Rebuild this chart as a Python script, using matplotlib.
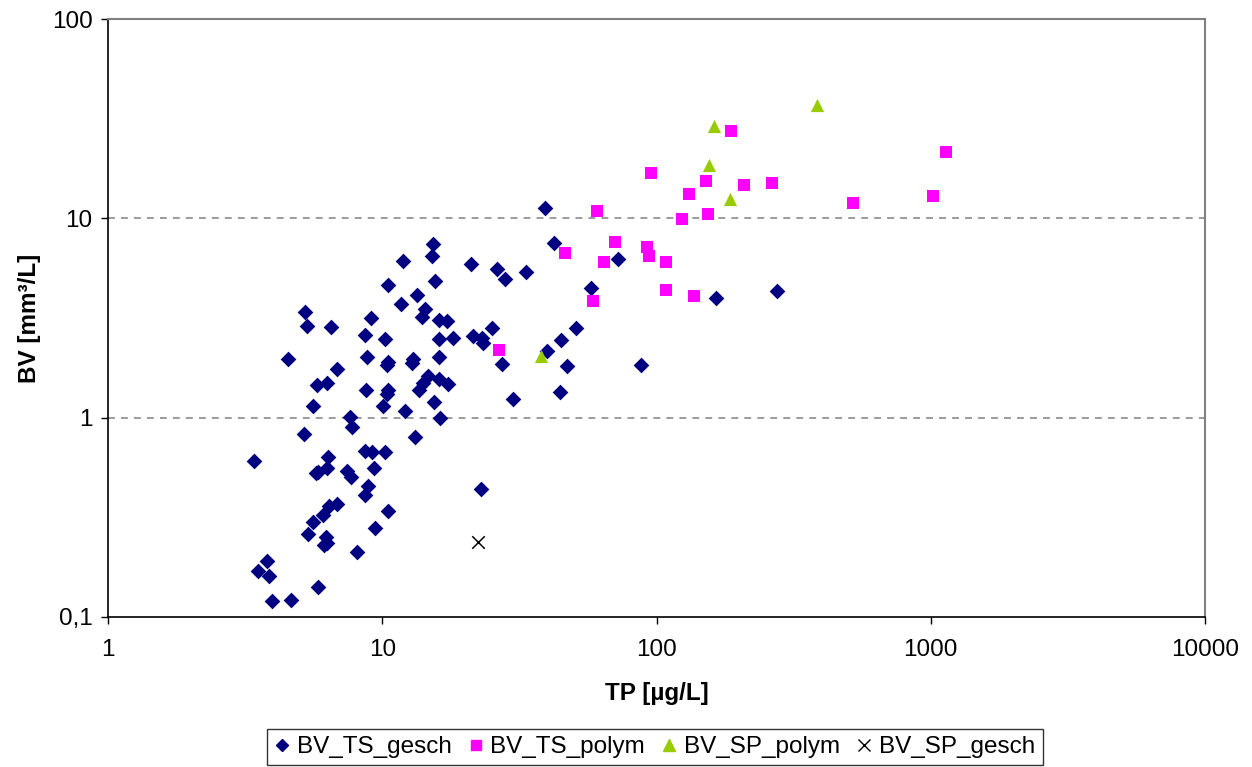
import matplotlib
matplotlib.use("Agg")
import matplotlib.pyplot as plt
from matplotlib.ticker import FixedLocator, FixedFormatter, NullLocator
from matplotlib.lines import Line2D

plt.rcParams['font.family'] = ['Liberation Sans', 'DejaVu Sans']

# BV_TS_gesch (TP, BV)
ts_gesch_tp = [3.41, 3.52, 3.80, 3.87, 3.96, 4.65, 4.53, 5.23, 5.32, 5.18,
               5.36, 5.59, 5.59, 5.78, 5.83, 5.73, 5.83, 6.29, 6.08, 6.13,
               6.34, 6.29, 6.50, 6.40, 6.24, 6.29, 6.84, 6.84, 7.63, 7.76,
               7.43, 7.69, 8.09, 8.65, 8.80, 8.73, 8.65, 8.87, 8.65, 9.10,
               9.18, 9.33, 9.41, 10.1, 10.2, 10.2, 10.5, 10.5, 10.5, 10.5,
               10.4, 10.4, 11.7, 11.9, 12.1, 12.9, 12.8, 13.2, 13.4, 13.6,
               14.0, 14.3, 14.1, 14.7, 15.2, 15.3, 15.4, 15.6, 16.1, 16.1,
               16.1, 16.2, 17.2, 17.4, 18.1, 16.1, 21.1, 21.4, 23.3, 23.1,
               22.9, 25.1, 26.2, 27.3, 28.0, 30.0, 33.4, 39.2, 39.9, 42.3,
               44.5, 44.9, 47.2, 50.9, 57.7, 72.4, 87.8, 165, 275]
ts_gesch_bv = [0.608, 0.171, 0.192, 0.161, 0.120, 0.121, 1.98, 3.40, 2.89, 0.83,
               0.262, 1.14, 0.301, 1.46, 0.141, 0.530, 0.536, 1.50, 0.323, 0.231,
               0.638, 0.561, 2.86, 0.362, 0.253, 0.236, 1.76, 0.371, 1.01, 0.90,
               0.542, 0.506, 0.211, 2.61, 2.02, 1.37, 0.684, 0.456, 0.411, 3.17,
               0.676, 0.561, 0.281, 1.15, 2.49, 0.676, 4.64, 1.91, 1.38, 0.342,
               1.84, 1.32, 3.73, 6.12, 1.08, 1.98, 1.89, 0.80, 4.14, 1.38,
               3.21, 3.52, 1.50, 1.61, 6.49, 7.45, 1.20, 4.86, 2.49, 2.02,
               3.10, 1.00, 3.07, 1.48, 2.52, 1.57, 5.92, 2.58, 2.38, 2.52,
               0.441, 2.83, 5.58, 1.86, 4.98, 1.24, 5.39, 11.3, 2.17, 7.54,
               1.35, 2.46, 1.82, 2.83, 4.47, 6.27, 1.84, 4.00, 4.33]

# BV_TS_polym
ts_polym_tp = [187, 95.5, 151, 131, 208, 264, 521, 1019, 1137, 60.7,
               124, 154, 70.6, 46.4, 64.4, 92.3, 93.9, 108, 108, 137,
               58.7, 26.7]
ts_polym_bv = [27.5, 16.9, 15.4, 13.3, 14.7, 15.1, 11.9, 13.0, 21.5, 10.9,
               9.94, 10.5, 7.62, 6.71, 6.05, 7.20, 6.49, 6.05, 4.38, 4.09,
               3.86, 2.19]

# BV_SP_polym
sp_polym_tp = [385, 162, 155, 185, 37.9]
sp_polym_bv = [37.1, 29.1, 18.5, 12.5, 2.05]

# BV_SP_gesch
sp_gesch_tp = [22.4]
sp_gesch_bv = [0.239]

x_ticks = [1, 10, 100, 1000, 10000]
x_tick_labels = ["1", "10", "100", "1000", "10000"]
y_ticks = [0.1, 1, 10, 100]
y_tick_labels = ["0,1", "1", "10", "100"]

fig = plt.figure(figsize=(12.52, 7.67), dpi=100)
ax = fig.add_axes([108/1252, 1-617/767, 1097/1252, 598/767])
ax.set_xscale('log')
ax.set_yscale('log')
ax.set_xlim(1, 10000)
ax.set_ylim(0.1, 100)

for yv in [1, 10]:
    ax.axhline(yv, color='#808080', linestyle=(0, (4.5, 4)), linewidth=1.1, zorder=1)

ax.scatter(ts_gesch_tp, ts_gesch_bv, marker='D', s=8.0**2, color='#000080',
           linewidths=0, zorder=3, label='BV_TS_gesch')
ax.scatter(ts_polym_tp, ts_polym_bv, marker='s', s=8.5**2, color='#FF00FF',
           linewidths=0, zorder=3, label='BV_TS_polym')
ax.scatter(sp_polym_tp, sp_polym_bv, marker='^', s=9.5**2, color='#99CC00',
           linewidths=0, zorder=3, label='BV_SP_polym')
ax.scatter(sp_gesch_tp, sp_gesch_bv, marker='x', s=9**2, color='black',
           linewidths=1.1, zorder=3, label='BV_SP_gesch')

ax.xaxis.set_major_locator(FixedLocator(x_ticks))
ax.xaxis.set_major_formatter(FixedFormatter(x_tick_labels))
ax.yaxis.set_major_locator(FixedLocator(y_ticks))
ax.yaxis.set_major_formatter(FixedFormatter(y_tick_labels))
ax.xaxis.set_minor_locator(NullLocator())
ax.yaxis.set_minor_locator(NullLocator())
ax.tick_params(axis='both', which='major', direction='out', length=5,
               width=1, labelsize=17.5, color='black')
ax.tick_params(axis='x', pad=11)
ax.tick_params(axis='y', pad=6)

for s in ['top', 'right']:
    ax.spines[s].set_color('#808080')
    ax.spines[s].set_linewidth(1.5)
for s in ['left', 'bottom']:
    ax.spines[s].set_color('black')
    ax.spines[s].set_linewidth(1.2)

ax.set_xlabel('TP [µg/L]', fontsize=17.5, fontweight='bold', labelpad=15)
ax.set_ylabel('BV [mm³/L]', fontsize=17.5, fontweight='bold', labelpad=8)

handles = [
    Line2D([], [], marker='D', color='#000080', linestyle='none', markersize=6.5),
    Line2D([], [], marker='s', color='#FF00FF', linestyle='none', markersize=7.5),
    Line2D([], [], marker='^', color='#99CC00', linestyle='none', markersize=8),
    Line2D([], [], marker='x', color='black', linestyle='none', markersize=8, markeredgewidth=1),
]
labels = ['BV_TS_gesch', 'BV_TS_polym', 'BV_SP_polym', 'BV_SP_gesch']
leg = fig.legend(handles, labels, loc='center', bbox_to_anchor=(655/1252, 1-747/767),
                 ncol=4, fontsize=17.5, frameon=True, fancybox=False,
                 edgecolor='black', handlelength=0.6, handletextpad=0.3,
                 columnspacing=0.7, borderpad=0.3, borderaxespad=0)
leg.get_frame().set_linewidth(1.0)

fig.savefig('out.png', dpi=100)
